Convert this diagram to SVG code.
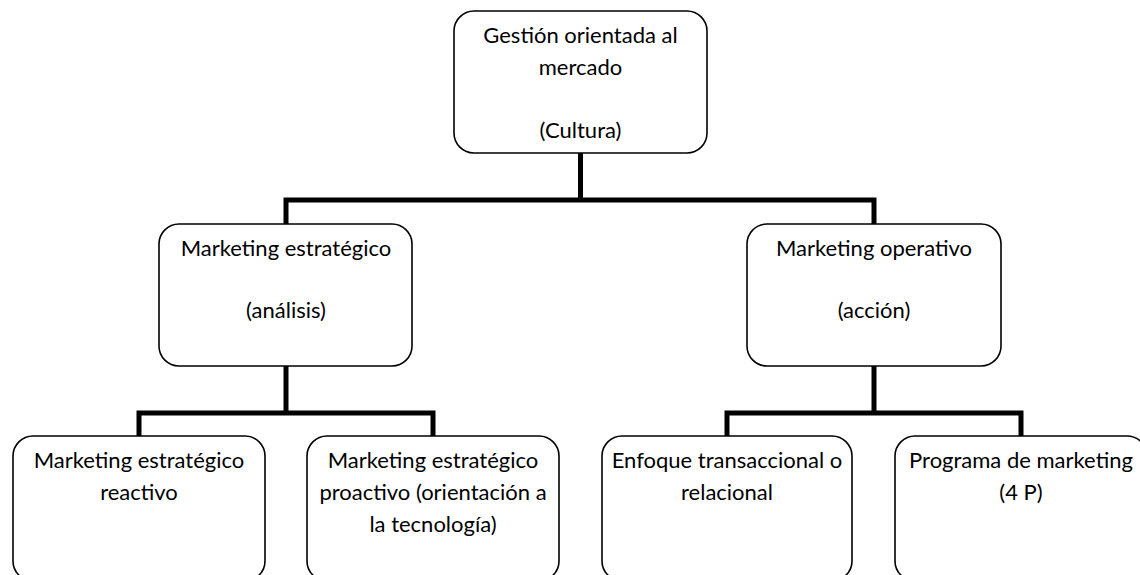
<svg xmlns="http://www.w3.org/2000/svg" width="1140" height="575" viewBox="0 0 1140 575">
<style>
.box{fill:#fff;stroke:#000;stroke-width:1.6}
.t{font-family:Lato,"Liberation Sans",sans-serif;font-size:22px;fill:#000;text-anchor:middle}
.c{fill:none;stroke:#000;stroke-width:5;stroke-linecap:butt;stroke-linejoin:miter}
</style>
<rect width="1140" height="575" fill="#fff"/>
<g id="connectors">
<path class="c" d="M580.5,153 V200 M286,224 V200 H874 V224"/>
<path class="c" d="M286,366 V413 M139,436 V413 H433 V436"/>
<path class="c" d="M874,366 V413 M727,436 V413 H1021 V436"/>
</g>
<g id="n-root">
<rect class="box" x="454" y="11" width="253" height="142" rx="20"/>
<text class="t" x="580.5" y="43">Gestión orientada al</text>
<text class="t" x="580.5" y="75">mercado</text>
<text class="t" x="580.5" y="138">(Cultura)</text>
</g>
<g id="n-estrategico">
<rect class="box" x="159" y="224" width="253" height="142" rx="20"/>
<text class="t" x="286" y="256">Marketing estratégico</text>
<text class="t" x="286" y="318">(análisis)</text>
</g>
<g id="n-operativo">
<rect class="box" x="747" y="224" width="254" height="142" rx="20"/>
<text class="t" x="874" y="256">Marketing operativo</text>
<text class="t" x="874" y="318">(acción)</text>
</g>
<g id="n-reactivo">
<rect class="box" x="13" y="436" width="252" height="145" rx="20"/>
<text class="t" x="139" y="468">Marketing estratégico</text>
<text class="t" x="139" y="500">reactivo</text>
</g>
<g id="n-proactivo">
<rect class="box" x="307" y="436" width="252" height="145" rx="20"/>
<text class="t" x="433" y="468">Marketing estratégico</text>
<text class="t" x="433" y="500">proactivo (orientación a</text>
<text class="t" x="433" y="532">la tecnología)</text>
</g>
<g id="n-enfoque">
<rect class="box" x="602" y="436" width="250" height="145" rx="20"/>
<text class="t" x="727" y="468">Enfoque transaccional o</text>
<text class="t" x="727" y="500">relacional</text>
</g>
<g id="n-programa">
<rect class="box" x="895" y="436" width="252" height="145" rx="20"/>
<text class="t" x="1021" y="468">Programa de marketing</text>
<text class="t" x="1021" y="500">(4 P)</text>
</g>
</svg>
